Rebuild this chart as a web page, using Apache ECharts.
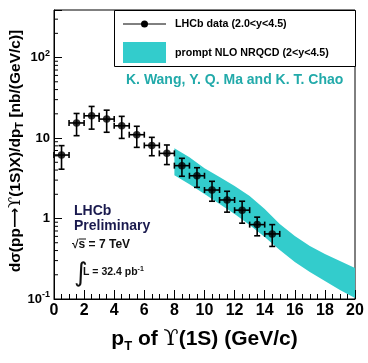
<!DOCTYPE html>
<html>
<head>
<meta charset="utf-8">
<script src="https://cdn.jsdelivr.net/npm/echarts@6/dist/echarts.min.js"></script>
<style>
  html, body { margin: 0; padding: 0; background: #fff; }
  #chart { width: 368px; height: 363px; }
</style>
</head>
<body>
<div id="chart"></div>
<script>
// LHCb points : pT bin centre, cross section, error bar ends, half bin width
var ptBins = [0.5, 1.5, 2.5, 3.5, 4.5, 5.5, 6.5, 7.5, 8.5, 9.5, 10.5, 11.5, 12.5, 13.5, 14.5];
var xsec = [6.15, 15.4, 18.9, 17.2, 14.2, 11.0, 8.1, 6.45, 4.54, 3.4, 2.26, 1.70, 1.27, 0.84, 0.644];
var xsecLow = [4.1, 10.7, 12.9, 11.8, 9.9, 7.66, 6.03, 4.68, 3.35, 2.44, 1.64, 1.2, 0.875, 0.61, 0.45];
var xsecHigh = [8.05, 20.2, 24.7, 22.2, 18.6, 14.0, 10.2, 8.2, 5.6, 4.28, 2.9, 2.18, 1.64, 1.04, 0.84];
var binHalf = [0.5, 0.5, 0.5, 0.5, 0.5, 0.5, 0.5, 0.5, 0.5, 0.5, 0.5, 0.5, 0.5, 0.5, 0.5];

// NLO NRQCD band
var bandPt = [8, 9, 10, 11, 12, 13, 14, 15, 16, 17, 18, 19, 20];
var bandLow = [3.46, 2.67, 2.01, 1.51, 1.135, 0.828, 0.589, 0.406, 0.288, 0.216, 0.167, 0.129, 0.103];
var bandHigh = [7.48, 5.78, 4.22, 3.27, 2.53, 1.90, 1.31, 0.853, 0.605, 0.455, 0.362, 0.296, 0.243];

// y axis minor tick values
var yMinor = [0.2, 0.3, 0.4, 0.5, 0.6, 0.7, 0.8, 0.9, 2, 3, 4, 5, 6, 7, 8, 9,
  20, 30, 40, 50, 60, 70, 80, 90, 200, 300];

var FONT = 'Liberation Sans, Arial, sans-serif';
var CYAN = '#33cccc';

function bandItem(params, api) {
  if (params.dataIndex !== 0) return null;
  var pts = [];
  for (var i = 0; i < bandPt.length; i++) pts.push(api.coord([bandPt[i], bandHigh[i]]));
  for (var j = bandPt.length - 1; j >= 0; j--) pts.push(api.coord([bandPt[j], bandLow[j]]));
  return { type: 'polygon', shape: { points: pts }, style: { fill: CYAN } };
}

function errItem(params, api) {
  var x = api.value(0), y = api.value(1), lo = api.value(2), hi = api.value(3), hw = api.value(4);
  var c = api.coord([x, y]);
  var pLo = api.coord([x, lo]), pHi = api.coord([x, hi]);
  var pL = api.coord([x - hw, y]), pR = api.coord([x + hw, y]);
  var cap = 3;
  var st = { stroke: '#000', lineWidth: 1.6 };
  return {
    type: 'group',
    children: [
      { type: 'line', shape: { x1: c[0], y1: pLo[1], x2: c[0], y2: pHi[1] }, style: st },
      { type: 'line', shape: { x1: c[0] - cap, y1: pLo[1], x2: c[0] + cap, y2: pLo[1] }, style: st },
      { type: 'line', shape: { x1: c[0] - cap, y1: pHi[1], x2: c[0] + cap, y2: pHi[1] }, style: st },
      { type: 'line', shape: { x1: pL[0], y1: c[1], x2: pR[0], y2: c[1] }, style: st },
      { type: 'line', shape: { x1: pL[0], y1: c[1] - cap, x2: pL[0], y2: c[1] + cap }, style: st },
      { type: 'line', shape: { x1: pR[0], y1: c[1] - cap, x2: pR[0], y2: c[1] + cap }, style: st }
    ]
  };
}

function minorTickItem(params, api) {
  var p = api.coord([0, api.value(1)]);
  return { type: 'line', shape: { x1: p[0], y1: p[1], x2: p[0] + 4, y2: p[1] }, style: { stroke: '#000', lineWidth: 1 } };
}

var chart = echarts.init(document.getElementById('chart'));
chart.setOption({
  animation: false,
  grid: { left: 54, top: 10, width: 301, height: 289, show: true, borderColor: '#000', borderWidth: 1, backgroundColor: 'transparent' },
  xAxis: {
    type: 'value', min: 0, max: 20, interval: 2,
    axisLine: { lineStyle: { color: '#000', width: 1 } },
    axisTick: { inside: true, length: 9, lineStyle: { color: '#000' } },
    minorTick: { show: true, splitNumber: 4, length: 5, lineStyle: { color: '#000' } },
    splitLine: { show: false },
    axisLabel: { margin: 4, color: '#000', fontFamily: FONT, fontWeight: 'bold', fontSize: 16 }
  },
  yAxis: {
    type: 'log', min: 0.1, max: 390,
    axisLine: { lineStyle: { color: '#000', width: 1 } },
    axisTick: { inside: true, length: 8, lineStyle: { color: '#000' } },
    splitLine: { show: false },
    axisLabel: {
      margin: 4, color: '#000', fontFamily: FONT, fontWeight: 'bold', fontSize: 13,
      formatter: function (v) {
        var e = Math.round(Math.log(v) / Math.LN10);
        if (Math.abs(Math.log(v) / Math.LN10 - e) > 1e-6) return '';
        if (e === -1) return '10{sup|-1}';
        if (e === 0) return '1';
        if (e === 1) return '10';
        return '10{sup|' + e + '}';
      },
      rich: { sup: { fontFamily: FONT, fontWeight: 'bold', fontSize: 9, padding: [0, 0, 8, 0] } }
    }
  },
  series: [
    { type: 'custom', renderItem: bandItem, encode: { x: 0, y: 1 },
      data: bandPt.map(function (x, i) { return [x, bandLow[i], bandHigh[i]]; }), z: 1 },
    { type: 'custom', renderItem: minorTickItem, encode: { x: 0, y: 1 },
      data: yMinor.map(function (v) { return [0, v]; }), z: 2 },
    { type: 'custom', renderItem: errItem, encode: { x: 0, y: 1 },
      data: ptBins.map(function (x, i) { return [x, xsec[i], xsecLow[i], xsecHigh[i], binHalf[i]]; }), z: 3 },
    { type: 'scatter', symbol: 'circle', symbolSize: 7.5, itemStyle: { color: '#000' },
      data: ptBins.map(function (x, i) { return [x, xsec[i]]; }), z: 4 }
  ],
  graphic: [
    // legend box
    { type: 'rect', shape: { x: 114.5, y: 10.5, width: 241, height: 56 }, style: { fill: '#fff', stroke: '#000', lineWidth: 1 }, z: 10 },
    { type: 'line', shape: { x1: 123, y1: 24, x2: 166, y2: 24 }, style: { stroke: '#000', lineWidth: 1 }, z: 11 },
    { type: 'circle', shape: { cx: 144.5, cy: 24, r: 3.5 }, style: { fill: '#000' }, z: 11 },
    { type: 'text', x: 175, y: 24, z: 11, style: { text: 'LHCb data (2.0<y<4.5)', font: 'bold 10.7px ' + FONT, fill: '#000', verticalAlign: 'middle' } },
    { type: 'rect', shape: { x: 123, y: 42, width: 43, height: 21 }, style: { fill: CYAN }, z: 11 },
    { type: 'text', x: 175, y: 53, z: 11, style: { text: 'prompt NLO NRQCD (2<y<4.5)', font: 'bold 10.7px ' + FONT, fill: '#000', verticalAlign: 'middle' } },
    // theory authors
    { type: 'text', x: 126, y: 80, z: 11, style: { text: 'K. Wang, Y. Q. Ma and K. T. Chao', font: 'bold 14px ' + FONT, fill: '#22aaaa', verticalAlign: 'middle' } },
    // LHCb label
    { type: 'text', x: 74, y: 211.5, z: 11, style: { text: 'LHCb', font: 'bold 14px ' + FONT, fill: '#1a1a4e', verticalAlign: 'middle' } },
    { type: 'text', x: 74, y: 226, z: 11, style: { text: 'Preliminary', font: 'bold 14px ' + FONT, fill: '#1a1a4e', verticalAlign: 'middle' } },
    { type: 'text', x: 72, y: 245, z: 11, style: { text: '√s = 7 TeV', font: 'bold 12px ' + FONT, fill: '#111', verticalAlign: 'middle' } },
    { type: 'line', shape: { x1: 79, y1: 239, x2: 86, y2: 239 }, style: { stroke: '#111', lineWidth: 1 }, z: 11 },
    { type: 'text', x: 74, y: 274, z: 11, style: { text: '∫', font: '26px DejaVu Sans', fill: '#111', verticalAlign: 'middle' } },
    { type: 'text', x: 83, y: 272, z: 11, style: { text: 'L = 32.4 pb{sup|-1}', font: 'bold 10.5px ' + FONT, fill: '#111', verticalAlign: 'middle',
      rich: { sup: { font: 'bold 7px ' + FONT, fill: '#111', padding: [0, 0, 6, 0] } } } },
    // axis titles
    { type: 'text', x: 15.5, y: 151, rotation: Math.PI / 2, z: 11,
      style: {
        text: '{a|dσ(pp}{r|⟶}{u|ϒ}{a|(1S)X)/dp}{s|T}{a| [nb/(GeV/c)]}',
        align: 'center', verticalAlign: 'middle', fill: '#000',
        rich: {
          a: { fontFamily: FONT, fontWeight: 'bold', fontSize: 15.5 },
          r: { fontFamily: 'DejaVu Sans', fontWeight: 'bold', fontSize: 14 },
          u: { fontFamily: 'DejaVu Serif', fontSize: 16.5 },
          s: { fontFamily: FONT, fontWeight: 'bold', fontSize: 11, padding: [9, 0, 0, 0] }
        }
      } },
    { type: 'text', x: 204.5, y: 339, z: 11,
      style: {
        text: '{a|p}{s|T}{a| of }{u|ϒ}{a|(1S) (GeV/c)}',
        align: 'center', verticalAlign: 'middle', fill: '#000',
        rich: {
          a: { fontFamily: FONT, fontWeight: 'bold', fontSize: 21 },
          u: { fontFamily: 'DejaVu Serif', fontSize: 22 },
          s: { fontFamily: FONT, fontWeight: 'bold', fontSize: 13, padding: [14, 0, 0, 0] }
        }
      } }
  ]
});
</script>
</body>
</html>
